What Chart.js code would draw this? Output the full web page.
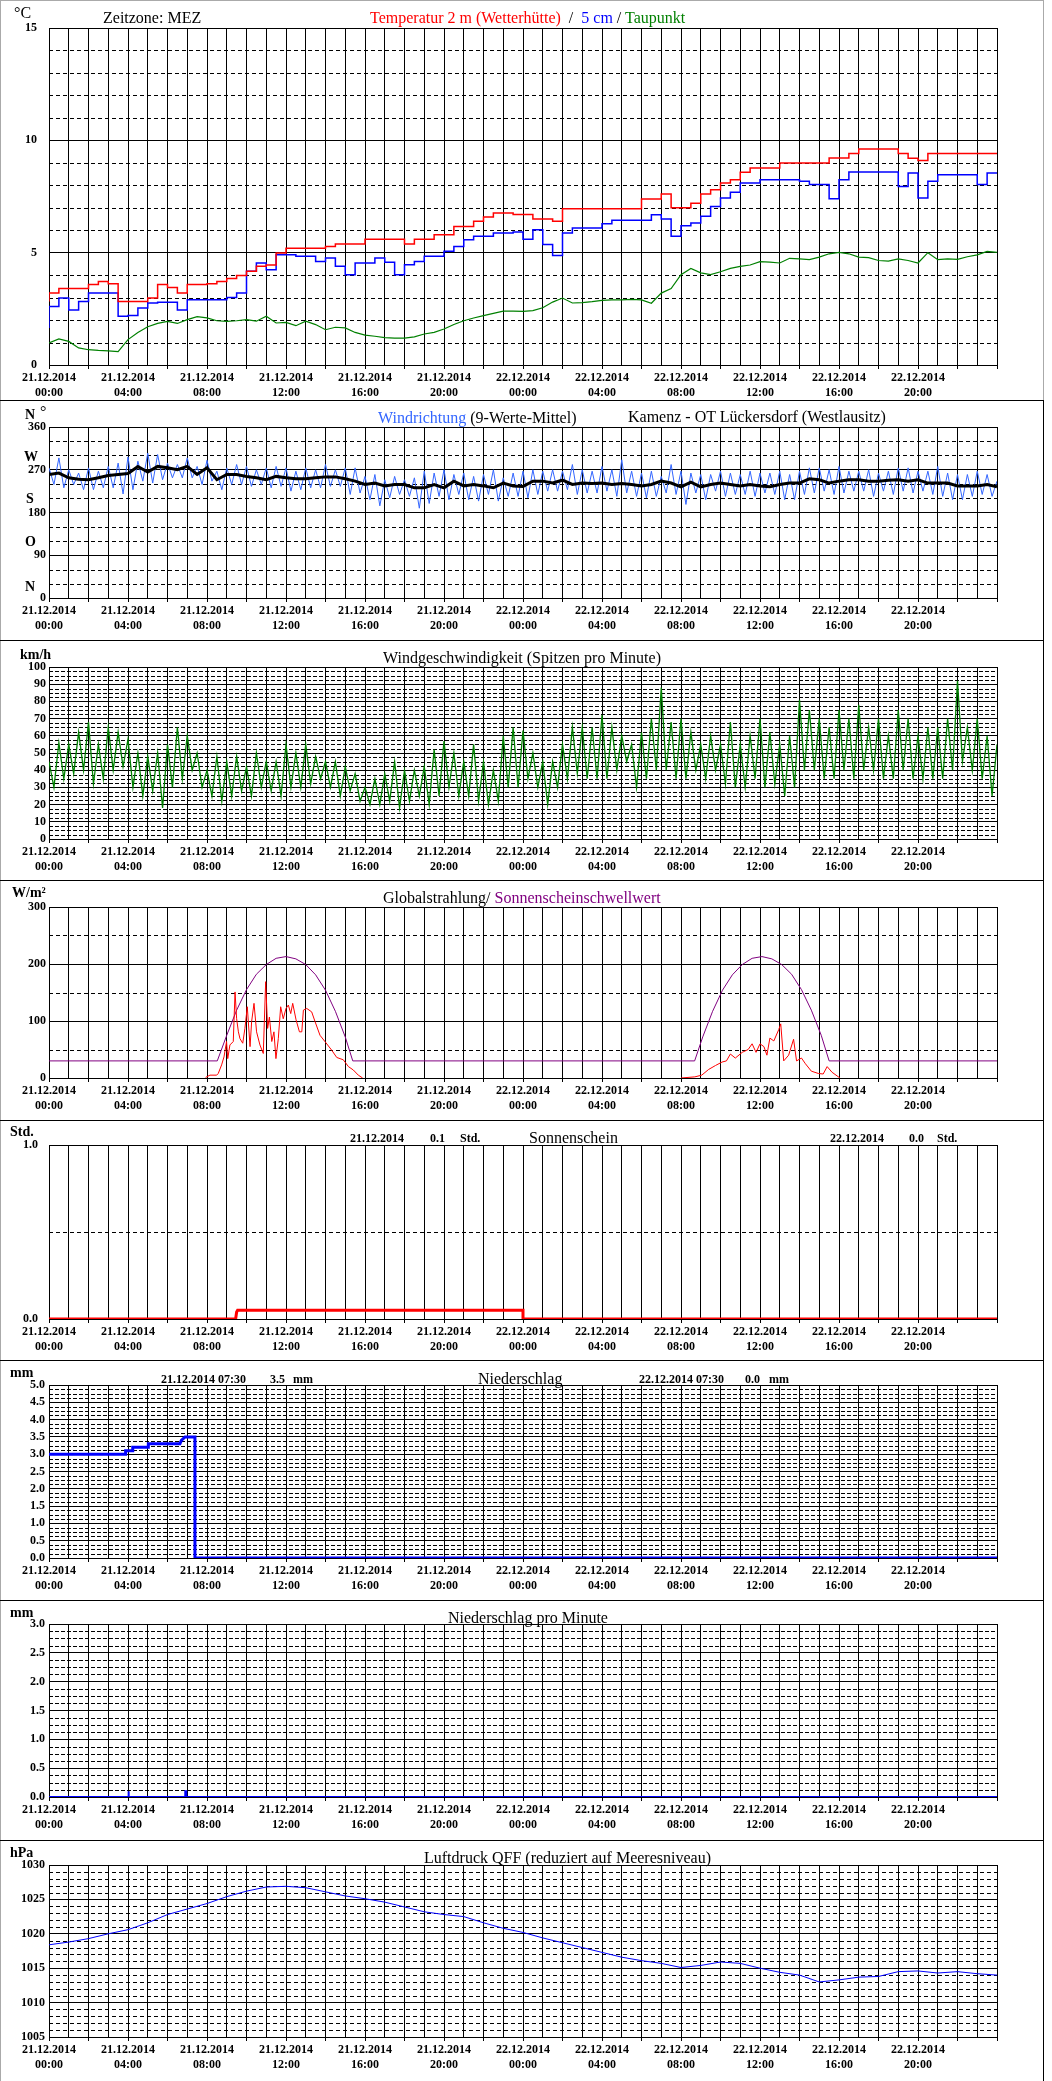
<!DOCTYPE html>
<html>
<head>
<meta charset="utf-8">
<script src="https://cdn.jsdelivr.net/npm/chart.js@4.4.0/dist/chart.umd.min.js"></script>
<style>
  body { margin: 0; background: #fff; }
  #page { position: relative; width: 1052px; height: 2081px; background: #fff; overflow: hidden;
          font-family: 'Liberation Serif', 'Times New Roman', serif; color: #000; }
  #page canvas { position: absolute; left: 0; }
  .t { position: absolute; white-space: pre; font-size: 16px; line-height: 18px; }
  .b { position: absolute; white-space: pre; font-size: 12px; line-height: 14px; font-weight: bold; }
  .u { position: absolute; white-space: pre; font-size: 14px; line-height: 16px; font-weight: bold; }
  .sep { position: absolute; left: 0; width: 1044px; height: 1px; background: #000; }
</style>
</head>
<body>
<div id="page">
  <canvas id="c1"></canvas>
  <canvas id="c2"></canvas>
  <canvas id="c3"></canvas>
  <canvas id="c4"></canvas>
  <canvas id="c5"></canvas>
  <canvas id="c6"></canvas>
  <canvas id="c7"></canvas>
  <canvas id="c8"></canvas>

  <!-- frame -->
  <div style="position:absolute;left:0;top:0;width:1044px;height:1px;background:#aaa"></div>
  <div style="position:absolute;left:0;top:0;width:1px;height:2081px;background:#aaa"></div>
  <div style="position:absolute;left:1043px;top:0;width:1px;height:400px;background:#aaa"></div>
  <div style="position:absolute;left:1043px;top:400px;width:1px;height:1681px;background:#000"></div>
  <div class="sep" style="top:400px"></div>
  <div class="sep" style="top:640px"></div>
  <div class="sep" style="top:880px"></div>
  <div class="sep" style="top:1120px"></div>
  <div class="sep" style="top:1360px"></div>
  <div class="sep" style="top:1600px"></div>
  <div class="sep" style="top:1840px"></div>

  <!-- panel 1 -->
  <div class="t" style="left:14px;top:4px">°C</div>
  <div class="t" style="left:103px;top:9px">Zeitzone: MEZ</div>
  <div class="t" style="left:370px;top:9px"><span style="color:#ff0000">Temperatur 2 m (Wetterhütte)</span>  /  <span style="color:#0000ff">5 cm</span> / <span style="color:#008000">Taupunkt</span></div>

  <!-- panel 2 -->
  <div class="u" style="left:25px;top:407px">N</div>
  <div class="t" style="left:40px;top:403px">°</div>
  <div class="u" style="left:24px;top:449px">W</div>
  <div class="u" style="left:26px;top:491px">S</div>
  <div class="u" style="left:25px;top:534px">O</div>
  <div class="u" style="left:25px;top:579px">N</div>
  <div class="t" style="left:378px;top:409px"><span style="color:#3366ff">Windrichtung</span> (9-Werte-Mittel)</div>
  <div class="t" style="left:628px;top:408px">Kamenz - OT Lückersdorf (Westlausitz)</div>

  <!-- panel 3 -->
  <div class="u" style="left:20px;top:647px">km/h</div>
  <div class="t" style="left:383px;top:649px">Windgeschwindigkeit (Spitzen pro Minute)</div>

  <!-- panel 4 -->
  <div class="u" style="left:12px;top:885px">W/m²</div>
  <div class="t" style="left:383px;top:889px">Globalstrahlung/ <span style="color:#800080">Sonnenscheinschwellwert</span></div>

  <!-- panel 5 -->
  <div class="u" style="left:10px;top:1124px">Std.</div>
  <div class="b" style="left:350px;top:1131px">21.12.2014</div>
  <div class="b" style="left:430px;top:1131px">0.1</div>
  <div class="b" style="left:460px;top:1131px">Std.</div>
  <div class="t" style="left:529px;top:1129px">Sonnenschein</div>
  <div class="b" style="left:830px;top:1131px">22.12.2014</div>
  <div class="b" style="left:909px;top:1131px">0.0</div>
  <div class="b" style="left:937px;top:1131px">Std.</div>

  <!-- panel 6 -->
  <div class="u" style="left:10px;top:1365px">mm</div>
  <div class="b" style="left:161px;top:1372px">21.12.2014 07:30</div>
  <div class="b" style="left:270px;top:1372px">3.5</div>
  <div class="b" style="left:293px;top:1372px">mm</div>
  <div class="t" style="left:478px;top:1370px">Niederschlag</div>
  <div class="b" style="left:639px;top:1372px">22.12.2014 07:30</div>
  <div class="b" style="left:745px;top:1372px">0.0</div>
  <div class="b" style="left:769px;top:1372px">mm</div>

  <!-- panel 7 -->
  <div class="u" style="left:10px;top:1605px">mm</div>
  <div class="t" style="left:448px;top:1609px">Niederschlag pro Minute</div>

  <!-- panel 8 -->
  <div class="u" style="left:10px;top:1845px">hPa</div>
  <div class="t" style="left:424px;top:1849px">Luftdruck QFF (reduziert auf Meeresniveau)</div>
</div>

<script>
// values every 30 minutes from 21.12.2014 00:00 to 22.12.2014 24:00
var temp2m = [2.83,3.2,3.41,3.41,3.41,3.58,3.72,3.62,2.83,2.83,2.83,2.98,3.58,3.45,3.2,3.58,3.58,3.62,3.72,3.85,3.98,4.17,4.39,4.45,
  4.99,5.2,5.2,5.2,5.2,5.28,5.39,5.39,5.39,5.6,5.6,5.6,5.6,5.39,5.6,5.6,5.8,5.8,6.17,6.17,6.4,6.59,6.77,6.77,
  6.7,6.7,6.5,6.5,6.4,6.96,6.96,6.96,6.96,6.96,6.96,6.96,6.96,7.39,7.39,7.61,7.0,7.0,7.2,7.61,7.8,8.1,8.25,8.58,
  8.77,8.77,8.77,8.99,8.99,8.99,8.99,8.99,9.21,9.21,9.41,9.61,9.61,9.61,9.61,9.41,9.2,9.1,9.41,9.41,9.41,9.41,9.41,9.41,9.41];
var temp5cm = [1.65,2.6,2.98,2.45,2.83,3.2,3.2,3.2,2.17,2.2,2.54,2.76,2.79,2.79,2.45,2.9,2.9,2.9,2.9,3.0,3.2,4.17,4.54,4.24,
  4.91,4.91,4.84,4.84,4.61,4.76,4.39,4.02,4.54,4.54,4.76,4.57,4.02,4.46,4.61,4.84,4.84,5.06,5.28,5.58,5.73,5.73,5.88,5.88,
  5.92,5.6,6.02,5.36,4.87,5.88,6.1,6.1,6.1,6.29,6.44,6.44,6.44,6.44,6.69,6.5,5.73,6.2,6.32,6.62,7.06,7.43,7.69,8.1,
  8.1,8.25,8.25,8.25,8.25,8.18,8.03,8.03,7.4,8.25,8.59,8.59,8.59,8.59,8.59,7.95,8.55,7.43,8.18,8.47,8.47,8.47,8.47,8.03,8.55];
var dewPoint = [0.98,1.16,1.05,0.76,0.68,0.65,0.63,0.6,1.13,1.45,1.7,1.85,1.94,1.85,2.02,2.15,2.1,1.97,1.94,1.97,2.02,1.95,2.17,1.87,
  1.9,1.75,1.95,1.8,1.57,1.68,1.65,1.45,1.33,1.28,1.22,1.2,1.2,1.25,1.38,1.45,1.6,1.8,1.97,2.09,2.2,2.3,2.4,2.4,
  2.39,2.42,2.55,2.8,2.98,2.76,2.78,2.82,2.88,2.9,2.9,2.92,2.9,2.75,3.2,3.4,4.02,4.3,4.1,4.02,4.15,4.3,4.39,4.45,
  4.6,4.58,4.54,4.75,4.72,4.69,4.8,4.95,5.01,4.95,4.8,4.78,4.65,4.62,4.72,4.65,4.54,5.0,4.69,4.72,4.7,4.82,4.9,5.06,5.01];

// wind direction: 9-value mean, and highest / lowest single value per 30 minutes
var windDirMean = [260,263,253,250,249,253,258,260,262,277,265,277,274,270,277,260,274,249,260,260,256,253,249,256,
  253,251,251,253,255,255,251,246,239,242,236,239,239,232,232,239,232,246,236,239,236,232,242,236,
  235,246,246,242,248,239,242,241,242,239,241,239,236,239,246,242,234,244,234,239,242,239,236,239,
  236,234,239,242,242,251,249,242,246,249,249,246,246,248,249,246,249,242,242,242,236,236,236,239,234];
var windDirHigh = [274,295,270,263,274,267,277,284,297,288,305,302,284,281,295,277,290,267,274,281,277,270,274,277,
  274,267,274,270,281,270,274,274,256,260,249,256,249,253,267,263,270,260,263,256,260,270,253,263,
  267,270,267,270,267,281,270,267,277,270,291,267,263,267,256,281,267,263,260,260,267,263,260,267,
  263,263,267,260,267,274,274,270,277,267,267,270,263,267,274,274,267,267,277,263,260,260,267,260,246];
var windDirLow = [239,232,239,228,228,232,232,219,228,246,242,249,253,253,253,239,246,228,239,239,235,239,232,235,
  225,228,232,232,235,235,218,221,207,194,211,218,214,189,199,214,207,218,207,204,218,204,214,214,
  211,218,225,225,228,218,221,221,225,214,221,214,211,214,221,218,197,221,207,225,214,218,218,214,
  221,218,207,207,218,221,225,218,221,225,225,214,225,218,225,221,225,218,214,207,207,214,218,214,200];

// wind gusts km/h: highest / lowest per 30 minutes
var windHigh = [45,56,55,62,68,55,65,62,58,50,48,50,55,65,60,50,40,48,45,48,42,50,45,45,
  55,50,55,48,45,45,42,38,30,35,38,45,40,40,42,52,57,50,45,55,45,40,60,65,
  63,50,45,45,55,65,65,65,72,65,60,55,62,70,88,68,70,62,55,60,55,68,55,60,
  70,62,55,60,81,75,70,65,75,70,78,65,70,60,75,70,60,65,65,70,92,65,70,60,55];
var windLow = [30,35,38,40,32,35,40,42,30,25,28,18,30,35,40,30,25,22,25,28,25,30,28,25,
  30,30,32,35,30,25,28,22,20,20,22,18,22,25,20,25,30,25,25,22,20,22,30,30,
  35,30,20,30,35,38,35,35,35,40,45,30,35,40,40,35,35,40,35,40,32,30,30,35,
  30,32,25,30,40,40,35,35,40,35,40,40,35,35,40,35,35,35,35,40,45,40,35,25,35];

// global radiation W/m², both days, and sunshine threshold
var rad1Hours = [7.93,8.15,8.49,8.57,8.74,8.86,8.99,9.05,9.16,9.33,9.42,9.5,9.59,9.67,9.81,9.92,10.04,10.18,10.26,10.38,
  10.51,10.68,10.85,10.97,11.07,11.16,11.28,11.39,11.49,11.61,11.73,11.86,12.0,12.12,12.24,12.34,12.51,12.68,12.8,12.88,
  13.05,13.3,13.47,13.72,13.97,14.31,14.57,14.9,15.16,15.41,15.66,15.88];
var rad1Values = [1,5,5,8,23,37,64,34,58,64,151,104,81,69,61,87,125,55,99,131,
  81,58,43,169,87,107,64,81,34,69,125,104,122,128,113,131,102,81,81,119,
  122,116,99,75,64,49,36,32,20,14,5,0];
var rad2Hours = [32.0,32.7,33.05,33.4,33.75,34.08,34.3,34.5,34.75,35.1,35.4,35.6,35.8,36.0,36.2,36.35,
  36.5,36.7,36.95,37.05,37.2,37.45,37.7,37.85,38.1,38.3,38.6,38.95,39.2,39.4,39.65,40.05];
var rad2Values = [0,2,5,15,22,28,30,42,35,45,50,60,45,60,55,40,70,65,85,95,30,40,68,30,35,25,12,8,7,20,10,0];
var threshHours = [0,8.52,9.0,9.5,10.0,10.5,11.0,11.5,12.0,12.5,13.0,13.5,14.0,14.5,15.0,15.38,
  32.69,33.1,33.6,34.1,34.6,35.1,35.6,36.1,36.6,37.1,37.6,38.1,38.6,39.1,39.5,48];
var threshValues = [30,30,75,119,155,182,199,210,213,209,199,181,154,117,72,30,
  30,72,117,154,181,199,210,213,209,199,182,155,119,75,30,30];

// sunshine hours
var sunHours = [0,9.45,9.5,9.55,24.0,24.0,48];
var sunValues = [0,0,0.04,0.05,0.05,0,0];

// precipitation sum (mm)
var rainHours = [0,3.88,3.88,4.24,4.24,5.03,5.03,6.63,6.7,6.89,7.39,7.39,48];
var rainValues = [3.0,3.0,3.1,3.1,3.2,3.2,3.3,3.3,3.4,3.5,3.5,0,0];

// precipitation per minute (mm)
var rainMinHours = [0,4.0,4.0,4.05,4.05,6.9,6.9,6.95,6.95,48];
var rainMinValues = [0,0,0.1,0.1,0,0,0.1,0.1,0,0];

// air pressure hPa, hourly
var pressure = [1018.4,1018.8,1019.3,1020.0,1020.6,1021.6,1022.8,1023.6,1024.4,1025.4,1026.2,1026.8,1026.9,1026.7,1026.1,
  1025.5,1025.1,1024.6,1023.9,1023.2,1022.8,1022.5,1021.6,1020.8,1020.2,1019.4,1018.7,1018.0,1017.3,1016.6,1016.1,
  1015.7,1015.1,1015.4,1015.9,1015.7,1015.0,1014.4,1014.0,1013.0,1013.3,1013.7,1013.8,1014.5,1014.6,1014.3,1014.5,1014.2,1014.0];

var FONT = "'Liberation Serif', 'Times New Roman', serif";
Chart.defaults.font.family = FONT;
Chart.defaults.color = "#000";

function halfHourly(values) {
  return values.map(function (v, i) { return { x: i * 0.5, y: v }; });
}
function pairs(hours, values) {
  return hours.map(function (h, i) { return { x: h, y: values[i] }; });
}
// high and low of each 30 min slot, drawn as a saw line
function spread(high, low) {
  var pts = [];
  for (var i = 0; i < high.length; i++) {
    pts.push({ x: i * 0.5, y: high[i] });
    if (i * 0.5 + 0.25 < 48) pts.push({ x: i * 0.5 + 0.25, y: low[i] });
  }
  return pts;
}

function xLabel(v) {
  if (v % 4 !== 0 || v >= 48) return "";
  var h = v % 24;
  return [v < 24 ? "21.12.2014" : "22.12.2014", (h < 10 ? "0" : "") + h + ":00"];
}

// dashed lines between the solid grid lines
var minorGrid = {
  id: "minorGrid",
  beforeDatasetsDraw: function (chart, args, opts) {
    if (!opts.step) return;
    var ctx = chart.ctx, y = chart.scales.y, a = chart.chartArea;
    ctx.save();
    ctx.strokeStyle = "#000";
    ctx.lineWidth = 1;
    ctx.setLineDash(opts.dash);
    var n = Math.round((y.max - y.min) / opts.step);
    for (var k = 1; k < n; k++) {
      var v = y.min + k * opts.step;
      var r = (v - y.min) / opts.major;
      if (Math.abs(r - Math.round(r)) < 1e-6) continue;
      var py = Math.round(y.getPixelForValue(v)) + 0.5;
      ctx.beginPath();
      ctx.moveTo(a.left, py);
      ctx.lineTo(a.right, py);
      ctx.stroke();
    }
    ctx.restore();
  }
};

function panel(id, top, height, plotTop, plotBottom, y, datasets, minor) {
  var cv = document.getElementById(id);
  cv.width = 1052;
  cv.height = height;
  cv.style.top = top + "px";
  return new Chart(cv, {
    type: "line",
    data: { datasets: datasets },
    options: {
      responsive: false,
      animation: false,
      devicePixelRatio: 1,
      layout: { padding: { left: 0, right: 55, top: plotTop - top, bottom: 0 } },
      elements: { point: { radius: 0 }, line: { tension: 0 } },
      plugins: { legend: { display: false }, tooltip: { enabled: false }, minorGrid: minor },
      scales: {
        x: {
          type: "linear", min: 0, max: 48,
          afterFit: function (s) { s.height = top + height - plotBottom; },
          border: { color: "#000" },
          grid: {
            color: "#000", lineWidth: 1, tickLength: 4,
            tickColor: function (c) { return c.tick && c.tick.value % 2 === 0 ? "#000" : "rgba(0,0,0,0)"; }
          },
          ticks: {
            stepSize: 1, autoSkip: false, maxRotation: 0, minRotation: 0, padding: 2,
            font: { size: 12, weight: "bold" }, callback: xLabel
          }
        },
        y: {
          min: y.min, max: y.max,
          afterFit: function (s) { s.width = 49; },
          border: { color: "#000" },
          grid: { color: "#000", lineWidth: 1, drawTicks: false },
          ticks: {
            stepSize: y.step, autoSkip: false, padding: y.pad, font: { size: 12, weight: "bold" },
            callback: function (v) { return y.dec ? v.toFixed(y.dec) : v; }
          }
        }
      }
    },
    plugins: [minorGrid]
  });
}

// Temperatur
panel("c1", 0, 400, 28, 365, { min: 0, max: 15, step: 5, pad: 12 }, [
  { data: halfHourly(temp2m), borderColor: "#ff0000", borderWidth: 1.5, stepped: "after" },
  { data: halfHourly(temp5cm), borderColor: "#0000ff", borderWidth: 1.5, stepped: "after" },
  { data: halfHourly(dewPoint), borderColor: "#008000", borderWidth: 1.2 }
], { step: 1, major: 5, dash: [4, 3] });

// Windrichtung
panel("c2", 400, 240, 427, 598, { min: 0, max: 360, step: 90, pad: 3 }, [
  { data: halfHourly(windDirMean), borderColor: "#000000", borderWidth: 3 },
  { data: spread(windDirHigh, windDirLow), borderColor: "#3366ff", borderWidth: 1 }
], { step: 30, major: 90, dash: [4, 3] });

// Windgeschwindigkeit
panel("c3", 640, 240, 667, 839, { min: 0, max: 100, step: 10, pad: 3 }, [
  { data: spread(windHigh, windLow), borderColor: "#008000", borderWidth: 1.3 }
], { step: 2.5, major: 10, dash: [4, 2] });

// Globalstrahlung
panel("c4", 880, 240, 907, 1078, { min: 0, max: 300, step: 100, pad: 3 }, [
  { data: pairs(rad1Hours, rad1Values), borderColor: "#ff0000", borderWidth: 1 },
  { data: pairs(rad2Hours, rad2Values), borderColor: "#ff0000", borderWidth: 1 },
  { data: pairs(threshHours, threshValues), borderColor: "#800080", borderWidth: 1 }
], { step: 50, major: 100, dash: [4, 3] });

// Sonnenschein
panel("c5", 1120, 240, 1145, 1319, { min: 0, max: 1, step: 1, pad: 11, dec: 1 }, [
  { data: pairs(sunHours, sunValues), borderColor: "#ff0000", borderWidth: 3 }
], { step: 0.5, major: 1, dash: [4, 3] });

// Niederschlag
panel("c6", 1360, 240, 1385, 1558, { min: 0, max: 5, step: 0.5, pad: 4, dec: 1 }, [
  { data: pairs(rainHours, rainValues), borderColor: "#0000ff", borderWidth: 3 }
], { step: 0.125, major: 0.5, dash: [4, 2] });

// Niederschlag pro Minute
panel("c7", 1600, 240, 1624, 1797, { min: 0, max: 3, step: 0.5, pad: 4, dec: 1 }, [
  { data: pairs(rainMinHours, rainMinValues), borderColor: "#0000ff", borderWidth: 2 }
], { step: 0.125, major: 0.5, dash: [4, 2] });

// Luftdruck
panel("c8", 1840, 241, 1865, 2037, { min: 1005, max: 1030, step: 5, pad: 4 }, [
  { data: pressure.map(function (v, i) { return { x: i, y: v }; }), borderColor: "#0000ff", borderWidth: 1 }
], { step: 1, major: 5, dash: [4, 3] });
</script>
</body>
</html>
